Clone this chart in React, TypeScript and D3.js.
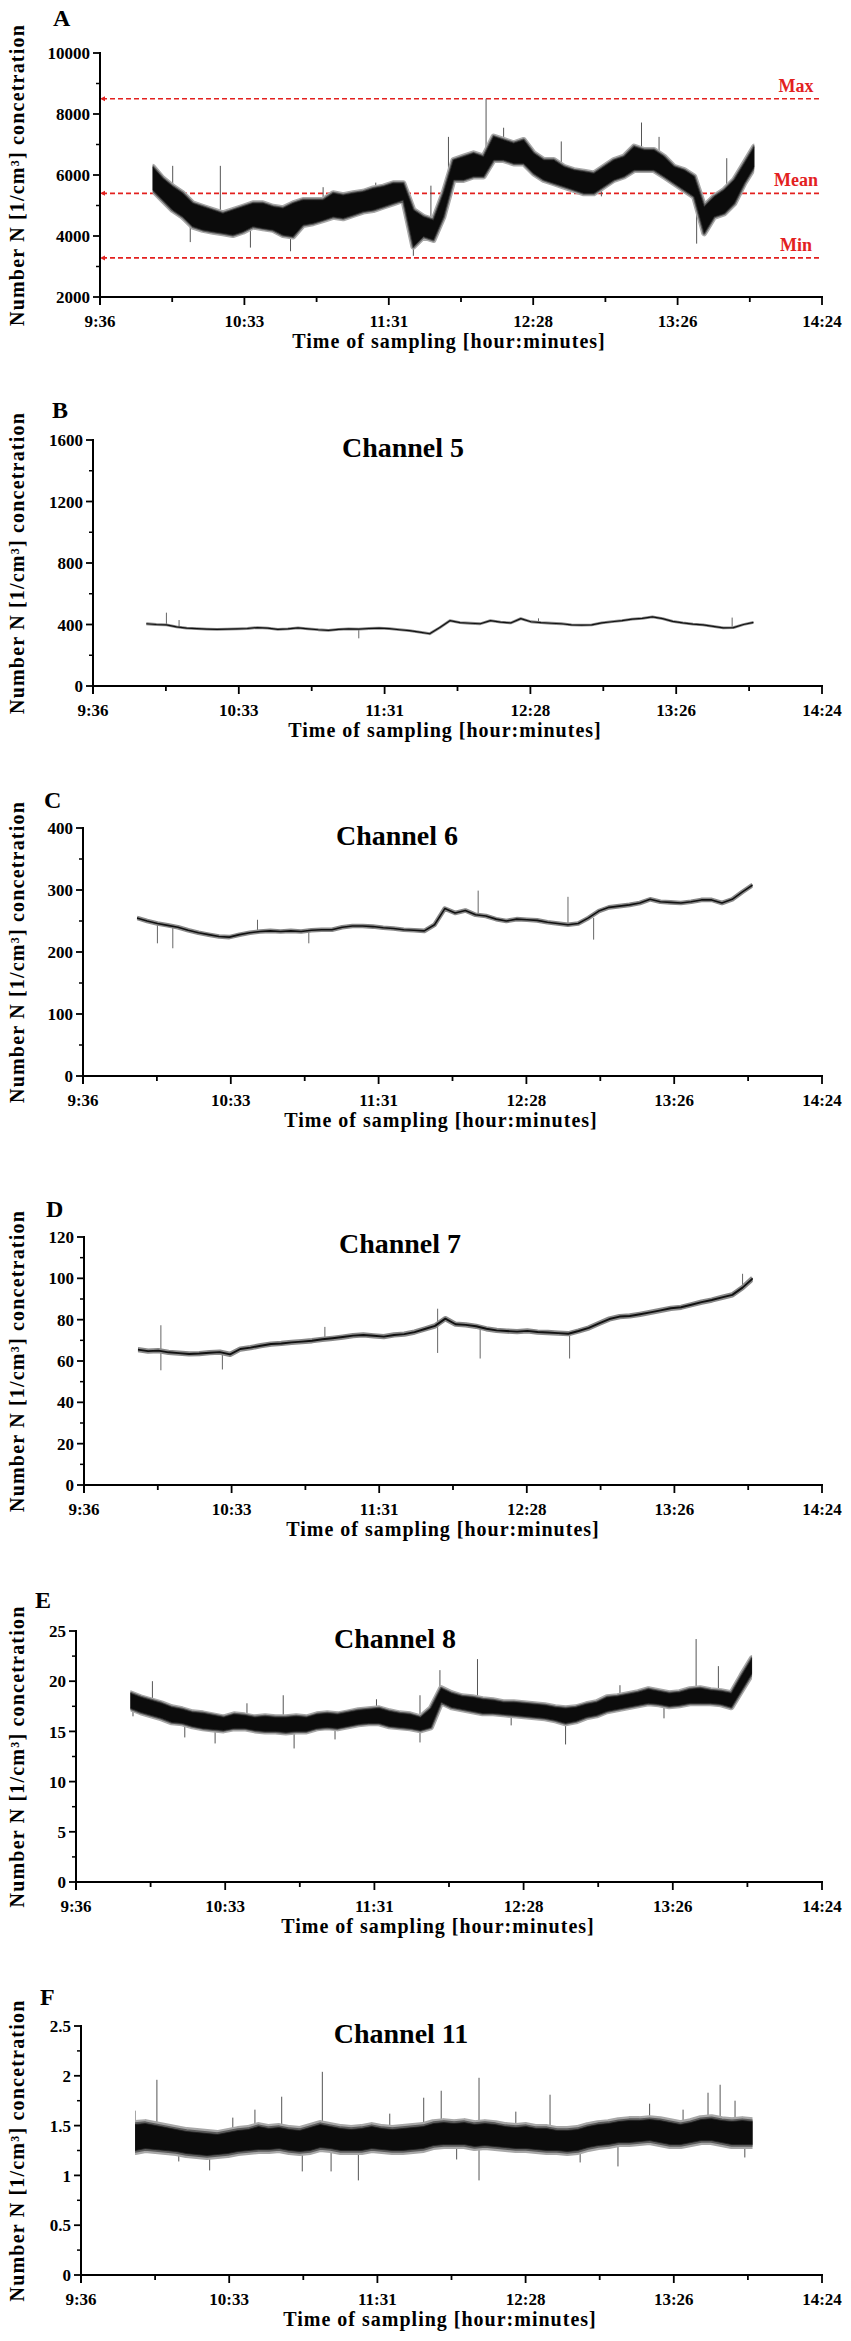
import React from 'react';
import * as d3 from 'd3';

const W = 851;
const H = 2341;
const FONT = "'Liberation Serif','Times New Roman',Times,serif";
const RIGHT = 822;

// ---- time axis (minutes after midnight) ----
const xTickMinutes = [576, 604.8, 633.6, 662.4, 691.2, 720, 748.8, 777.6, 806.4, 835.2, 864];
const xTickLabels = ['9:36', '', '10:33', '', '11:31', '', '12:28', '', '13:26', '', '14:24'];
// sampling instants of the read-off series (every 4 min, 9:57 .. 13:57)
const sampleTimes: number[] = d3.range(597, 838, 4);

// ---- Panel A : total concentration (core band of the noisy trace) ----
const aHi = [6270, 5890, 5620, 5400, 5070, 4960, 4850, 4740, 4850, 4960, 5070, 5070, 4960, 4910, 5070, 5180, 5180, 5180, 5400, 5340, 5400, 5450, 5560, 5620, 5730, 5730, 4850, 4630, 4520, 5400, 6490, 6600, 6710, 6600, 7260, 7150, 7040, 7150, 6710, 6490, 6490, 6270, 6160, 6110, 6050, 6270, 6490, 6600, 6930, 6820, 6820, 6600, 6270, 6160, 5950, 4960, 5290, 5510, 5840, 6380, 6930];
const aLo = [5510, 5180, 4850, 4630, 4310, 4200, 4140, 4090, 4030, 4140, 4310, 4250, 4200, 4030, 3980, 4360, 4420, 4520, 4630, 4580, 4690, 4800, 4850, 4960, 5070, 5180, 3650, 3980, 3870, 4630, 5840, 5840, 5950, 5950, 6490, 6490, 6380, 6380, 6050, 5840, 5730, 5620, 5510, 5400, 5400, 5620, 5840, 5950, 6160, 6160, 6160, 5950, 5730, 5510, 5290, 4090, 4630, 4740, 5070, 5730, 6270];
const aSpikes: [number, number][] = [[605, 6300], [612, 3800], [624, 6300], [636, 3620], [652, 3500], [665, 5600], [686, 5750], [701, 3350], [708, 5650], [715, 7250], [730, 8500], [737, 7550], [760, 7100], [776, 5300], [792, 7720], [799, 7250], [814, 3750], [826, 6550]];
const aRefLabels = ['Max', 'Mean', 'Min'];
const aRefValues = [8500, 5400, 3280];

// ---- Panel B : Channel 5 ----
const bVals = [405, 400, 397, 385, 377, 373, 370, 368, 370, 372, 374, 380, 376, 368, 372, 378, 372, 366, 362, 368, 372, 370, 374, 376, 373, 366, 360, 350, 340, 380, 425, 412, 408, 405, 425, 415, 410, 438, 418, 412, 408, 405, 398, 396, 398, 410, 418, 425, 435, 440, 450, 438, 420, 410, 402, 398, 388, 378, 380, 400, 414];
const bSpikes: [number, number][] = [[605, 477], [610, 429], [681, 310], [752, 440], [828.5, 445]];

// ---- Panel C : Channel 6 ----
const cVals = [255, 250, 246, 243, 240, 235, 231, 228, 225, 224, 228, 231, 233, 234, 233, 234, 233, 235, 236, 236, 240, 242, 242, 241, 239, 238, 236, 235, 234, 244, 270, 263, 267, 260, 258, 253, 250, 253, 252, 251, 248, 246, 244, 246, 255, 266, 272, 274, 276, 279, 285, 281, 280, 279, 281, 284, 284, 279, 285, 297, 308];
const cSpikes: [number, number][] = [[605, 214], [611, 206], [644, 252], [664, 214], [730, 299], [765, 289], [775, 220]];

// ---- Panel D : Channel 7 ----
const dVals = [65.5, 64.8, 65.0, 64.2, 63.8, 63.4, 63.6, 64.0, 64.3, 63.2, 65.8, 66.5, 67.4, 68.2, 68.5, 69.0, 69.4, 69.8, 70.5, 71.0, 71.6, 72.3, 72.6, 72.2, 71.8, 72.6, 73.0, 74.0, 75.5, 77.0, 80.5, 77.8, 77.5, 76.8, 75.6, 74.8, 74.5, 74.2, 74.6, 74.0, 73.8, 73.5, 73.2, 74.5, 76.0, 78.2, 80.3, 81.5, 81.8, 82.6, 83.5, 84.5, 85.5, 86.0, 87.2, 88.5, 89.5, 90.8, 92.0, 95.5, 100.0];
const dSpikes: [number, number][] = [[606, 77.3], [606, 55.5], [630, 55.9], [670, 76.5], [714, 63.9], [714, 85.3], [730.6, 61.2], [765.5, 61.2], [833, 102.2]];

// ---- Panel E : Channel 8 ----
const eHi = [18.8, 18.4, 18.1, 17.8, 17.4, 17.2, 16.9, 16.8, 16.6, 16.4, 16.7, 16.6, 16.4, 16.5, 16.4, 16.4, 16.5, 16.4, 16.7, 16.8, 16.7, 16.9, 17.1, 17.2, 17.3, 17.0, 16.8, 16.7, 16.4, 17.3, 19.3, 18.8, 18.5, 18.4, 18.2, 18.1, 17.9, 17.9, 17.8, 17.7, 17.6, 17.4, 17.3, 17.4, 17.7, 17.9, 18.4, 18.5, 18.7, 18.9, 19.2, 19.0, 18.8, 18.9, 19.2, 19.3, 19.1, 19.0, 18.8, 20.6, 22.3];
const eLo = [17.3, 16.9, 16.6, 16.3, 15.9, 15.8, 15.5, 15.3, 15.2, 15.1, 15.3, 15.3, 15.1, 15.0, 15.0, 14.9, 15.0, 15.0, 15.3, 15.4, 15.3, 15.5, 15.7, 15.8, 15.8, 15.5, 15.4, 15.3, 15.1, 15.4, 17.9, 17.4, 17.2, 17.0, 16.8, 16.8, 16.7, 16.6, 16.5, 16.4, 16.3, 16.1, 15.8, 16.0, 16.4, 16.6, 17.0, 17.2, 17.4, 17.6, 17.8, 17.7, 17.5, 17.6, 17.8, 17.8, 17.8, 17.7, 17.4, 19.1, 20.8];
const eSpikes: [number, number][] = [[598, 16.5], [605.5, 20.0], [618, 14.4], [629.7, 13.8], [642, 17.8], [656, 18.6], [660.2, 13.3], [676, 14.2], [692, 18.2], [708.8, 18.6], [708.8, 13.9], [716.5, 21.1], [731, 22.2], [744, 15.6], [765, 13.7], [786, 19.6], [803, 16.3], [815.4, 24.2], [824, 21.5], [829, 17.6]];

// ---- Panel F : Channel 11 ----
const fHi = [1.51, 1.52, 1.50, 1.48, 1.46, 1.44, 1.43, 1.42, 1.41, 1.43, 1.45, 1.46, 1.49, 1.47, 1.48, 1.46, 1.45, 1.48, 1.51, 1.49, 1.47, 1.46, 1.47, 1.49, 1.47, 1.46, 1.47, 1.48, 1.49, 1.52, 1.53, 1.52, 1.53, 1.51, 1.52, 1.51, 1.49, 1.48, 1.49, 1.47, 1.47, 1.45, 1.45, 1.46, 1.49, 1.51, 1.52, 1.54, 1.55, 1.55, 1.56, 1.55, 1.53, 1.51, 1.53, 1.56, 1.57, 1.55, 1.54, 1.55, 1.54];
const fLo = [1.25, 1.27, 1.26, 1.25, 1.24, 1.22, 1.21, 1.20, 1.21, 1.22, 1.24, 1.25, 1.26, 1.26, 1.27, 1.25, 1.24, 1.25, 1.28, 1.27, 1.25, 1.25, 1.25, 1.27, 1.26, 1.25, 1.25, 1.26, 1.27, 1.30, 1.31, 1.31, 1.31, 1.29, 1.30, 1.29, 1.28, 1.27, 1.27, 1.26, 1.25, 1.25, 1.24, 1.25, 1.28, 1.30, 1.31, 1.33, 1.33, 1.34, 1.35, 1.33, 1.31, 1.31, 1.33, 1.35, 1.35, 1.33, 1.31, 1.31, 1.31];
const fSpikes: [number, number][] = [[597, 1.65], [605.5, 1.96], [614, 1.14], [626, 1.05], [635, 1.58], [643.6, 1.66], [654, 1.79], [662, 1.04], [669.8, 2.04], [673.2, 1.04], [683.8, 0.95], [696, 1.62], [709.2, 1.78], [716, 1.85], [722, 1.16], [730.7, 1.98], [730.7, 0.95], [745, 1.64], [758.3, 1.81], [770, 1.13], [784.7, 1.09], [797, 1.72], [810, 1.66], [819.7, 1.83], [824.4, 1.91], [830.2, 1.75], [834, 1.18]];

// ---- y tick values ----
const aMajor = [2000, 4000, 6000, 8000, 10000];
const aMinor = [3000, 5000, 7000, 9000];
const bMajor = [0, 400, 800, 1200, 1600];
const bMinor = [200, 600, 1000, 1400];
const cMajor = [0, 100, 200, 300, 400];
const cMinor = [50, 150, 250, 350];
const dMajor = [0, 20, 40, 60, 80, 100, 120];
const dMinor = [10, 30, 50, 70, 90, 110];
const eMajor = [0, 5, 10, 15, 20, 25];
const eMinor = [2.5, 7.5, 12.5, 17.5, 22.5];
const fMajor = [0, 0.5, 1, 1.5, 2, 2.5];
const fMinor = [0.25, 0.75, 1.25, 1.75, 2.25];

const Y_TITLE = 'Number N [1/cm\u00B3] concetration';
const X_TITLE = 'Time of sampling [hour:minutes]';

type Panel = {
  letter: string; lx: number; ly: number;
  title: string | null; tx: number; ty: number;
  left: number; top: number; bottom: number;
  domain: [number, number]; major: number[]; minor: number[];
  kind: 'band' | 'line';
  hi?: number[]; lo?: number[]; vals?: number[];
  spikes: [number, number][];
  lineW: number; fringe: number; xTitleX: number;
};

const panels: Panel[] = [
  { letter: 'A', lx: 53, ly: 26, title: null, tx: 0, ty: 0, left: 100, top: 53, bottom: 297, domain: [2000, 10000], major: aMajor, minor: aMinor, kind: 'band', hi: aHi, lo: aLo, spikes: aSpikes, lineW: 1, fringe: 6, xTitleX: 449 },
  { letter: 'B', lx: 52, ly: 418, title: 'Channel 5', tx: 403, ty: 457, left: 93, top: 440, bottom: 686, domain: [0, 1600], major: bMajor, minor: bMinor, kind: 'line', vals: bVals, spikes: bSpikes, lineW: 1.2, fringe: 1.6, xTitleX: 445 },
  { letter: 'C', lx: 44, ly: 808, title: 'Channel 6', tx: 397, ty: 845, left: 83, top: 828, bottom: 1076, domain: [0, 400], major: cMajor, minor: cMinor, kind: 'line', vals: cVals, spikes: cSpikes, lineW: 1.6, fringe: 3, xTitleX: 441 },
  { letter: 'D', lx: 46, ly: 1217, title: 'Channel 7', tx: 400, ty: 1253, left: 84, top: 1237, bottom: 1485, domain: [0, 120], major: dMajor, minor: dMinor, kind: 'line', vals: dVals, spikes: dSpikes, lineW: 1.9, fringe: 3.4, xTitleX: 443 },
  { letter: 'E', lx: 35, ly: 1608, title: 'Channel 8', tx: 395, ty: 1648, left: 76, top: 1631, bottom: 1882, domain: [0, 25], major: eMajor, minor: eMinor, kind: 'band', hi: eHi, lo: eLo, spikes: eSpikes, lineW: 1, fringe: 6, xTitleX: 438 },
  { letter: 'F', lx: 40, ly: 2005, title: 'Channel 11', tx: 401, ty: 2043, left: 81, top: 2026, bottom: 2275, domain: [0, 2.5], major: fMajor, minor: fMinor, kind: 'band', hi: fHi, lo: fLo, spikes: fSpikes, lineW: 1, fringe: 9, xTitleX: 440 },
];

const RED = '#e3211f';

function nearestIndex(t: number): number {
  let best = 0;
  let bd = Infinity;
  sampleTimes.forEach((s, i) => {
    const d = Math.abs(s - t);
    if (d < bd) { bd = d; best = i; }
  });
  return best;
}

function PanelView({ p }: { p: Panel }) {
  const x = d3.scaleLinear().domain([576, 864]).range([p.left, RIGHT]);
  const y = d3.scaleLinear().domain(p.domain).range([p.bottom, p.top]);
  const fmt = (v: number) => String(v);
  const t0 = sampleTimes[0];
  const t1 = sampleTimes[sampleTimes.length - 1];
  const clipId = 'clip' + p.letter;

  let traces: React.ReactNode = null;
  if (p.kind === 'band' && p.hi && p.lo) {
    const hi = p.hi;
    const lo = p.lo;
    const area = d3.area<number>()
      .x((_, i) => x(sampleTimes[i]))
      .y0((_, i) => y(lo[i]))
      .y1((_, i) => y(hi[i]));
    const d = area(hi) || '';
    traces = (
      <g clipPath={`url(#${clipId})`}>
        {p.spikes.map(([t, v], k) => {
          const idx = nearestIndex(t);
          const base = (hi[idx] + lo[idx]) / 2;
          return <line key={k} x1={x(t)} x2={x(t)} y1={y(base)} y2={y(v)} stroke="#555" strokeWidth={1} />;
        })}
        <path d={d} fill="#9a9a9a" stroke="#a8a8a8" strokeWidth={p.fringe} strokeLinejoin="round" />
        <path d={d} fill="none" stroke="#5c5c5c" strokeWidth={p.fringe * 0.5} strokeLinejoin="round" />
        <path d={d} fill="#0b0b0b" stroke="#1e1e1e" strokeWidth={0.8} />
      </g>
    );
  } else if (p.vals) {
    const vals = p.vals;
    const line = d3.line<number>().x((_, i) => x(sampleTimes[i])).y((v) => y(v));
    const d = line(vals) || '';
    traces = (
      <g clipPath={`url(#${clipId})`}>
        {p.spikes.map(([t, v], k) => {
          const idx = nearestIndex(t);
          return <line key={k} x1={x(t)} x2={x(t)} y1={y(vals[idx])} y2={y(v)} stroke="#666" strokeWidth={1} />;
        })}
        <path d={d} fill="none" stroke="#8a8a8a" strokeWidth={p.lineW + p.fringe} strokeLinejoin="round" />
        <path d={d} fill="none" stroke="#111" strokeWidth={p.lineW} strokeLinejoin="round" />
      </g>
    );
  }

  return (
    <g>
      <defs>
        <clipPath id={clipId}>
          <rect x={x(t0)} y={p.top - 20} width={x(t1) - x(t0)} height={p.bottom - p.top + 20} />
        </clipPath>
      </defs>

      {/* panel letter */}
      <text x={p.lx} y={p.ly} fontFamily={FONT} fontWeight="bold" fontSize={24} fill="#000">{p.letter}</text>
      {p.title && (
        <text x={p.tx} y={p.ty} textAnchor="middle" fontFamily={FONT} fontWeight="bold" fontSize={28} fill="#000">{p.title}</text>
      )}

      {/* reference lines (panel A) */}
      {p.letter === 'A' && aRefValues.map((v, k) => (
        <g key={k}>
          <line x1={p.left + 2} x2={RIGHT} y1={y(v)} y2={y(v)} stroke={RED} strokeWidth={1.7} strokeDasharray="5,3" />
          <polygon points={`${p.left},${y(v)} ${p.left + 5},${y(v) - 2.5} ${p.left + 5},${y(v) + 2.5}`} fill={RED} />
          <text x={796} y={y(v) - 7} textAnchor="middle" fontFamily={FONT} fontWeight="bold" fontSize={18} fill={RED}>{aRefLabels[k]}</text>
        </g>
      ))}

      {traces}

      {/* y axis */}
      <line x1={p.left} x2={p.left} y1={p.top - 1} y2={p.bottom + 8} stroke="#000" strokeWidth={2} />
      {p.major.map((v) => (
        <g key={'M' + v}>
          <line x1={p.left - 7} x2={p.left} y1={y(v)} y2={y(v)} stroke="#000" strokeWidth={1.8} />
          <text x={p.left - 10} y={y(v)} dy="0.36em" textAnchor="end" fontFamily={FONT} fontWeight="bold" fontSize={17} fill="#000">{fmt(v)}</text>
        </g>
      ))}
      {p.minor.map((v) => (
        <line key={'m' + v} x1={p.left - 4} x2={p.left} y1={y(v)} y2={y(v)} stroke="#000" strokeWidth={1.5} />
      ))}

      {/* x axis */}
      <line x1={p.left} x2={RIGHT + 1} y1={p.bottom} y2={p.bottom} stroke="#000" strokeWidth={2.2} />
      {xTickMinutes.map((m, k) => (
        <g key={'x' + k}>
          <line x1={x(m)} x2={x(m)} y1={p.bottom} y2={p.bottom + (xTickLabels[k] ? 8 : 5)} stroke="#000" strokeWidth={1.8} />
          {xTickLabels[k] && (
            <text x={x(m)} y={p.bottom + 30} textAnchor="middle" fontFamily={FONT} fontWeight="bold" fontSize={17} fill="#000">{xTickLabels[k]}</text>
          )}
        </g>
      ))}

      {/* axis titles */}
      <text x={p.xTitleX} y={p.bottom + 51} textAnchor="middle" fontFamily={FONT} fontWeight="bold" fontSize={20} letterSpacing={1} fill="#000">{X_TITLE}</text>
      <text transform={`translate(24,${(p.top + p.bottom) / 2}) rotate(-90)`} textAnchor="middle" fontFamily={FONT} fontWeight="bold" fontSize={20} letterSpacing={1.2} fill="#000">{Y_TITLE}</text>
    </g>
  );
}

export default function App() {
  return (
    <svg width={W} height={H} viewBox={`0 0 ${W} ${H}`} style={{ position: 'absolute', left: 0, top: 0, background: '#fff', display: 'block' }}>
      <rect x={0} y={0} width={W} height={H} fill="#fff" />
      {panels.map((p) => <PanelView key={p.letter} p={p} />)}
    </svg>
  );
}
